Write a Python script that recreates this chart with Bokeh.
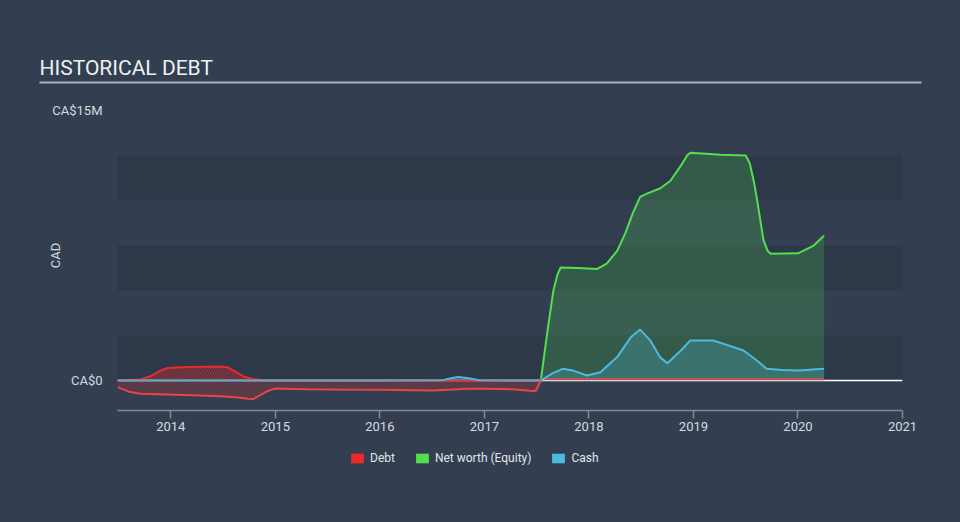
import numpy as np
from bokeh.plotting import figure
from bokeh.layouts import column
from bokeh.models import (FixedTicker, Span, Legend, LegendItem, BoxAnnotation,
                          Range1d, Label)
from bokeh.embed import file_html
from bokeh.resources import INLINE

# ---------------- data (CA$ millions, decimal years) ----------------
debt_x = [2013.49, 2013.7, 2013.8, 2013.9, 2013.97, 2014.1, 2014.3, 2014.48, 2014.55,
          2014.62, 2014.7, 2014.78, 2014.9, 2015.0, 2016.0, 2017.0, 2017.5, 2017.56,
          2018.0, 2019.0, 2020.0, 2020.25]
debt_y = [0.0, 0.05, 0.22, 0.55, 0.70, 0.74, 0.76, 0.78, 0.72,
          0.48, 0.22, 0.08, 0.02, 0.0, 0.0, 0.0, 0.0, 0.08,
          0.08, 0.08, 0.08, 0.08]

networth_x = [2013.49, 2013.6, 2013.71, 2013.97, 2014.2, 2014.48, 2014.65, 2014.74, 2014.79,
              2014.86, 2014.93, 2014.99, 2015.3, 2015.56, 2016.0, 2016.51, 2016.7, 2016.84,
              2017.0, 2017.3, 2017.49, 2017.54, 2017.6, 2017.66, 2017.7, 2017.73, 2017.9,
              2018.08, 2018.17, 2018.27, 2018.35, 2018.42, 2018.49, 2018.56, 2018.68, 2018.78,
              2018.88, 2018.94, 2018.97, 2019.26, 2019.5, 2019.54, 2019.58, 2019.61, 2019.67,
              2019.71, 2019.74, 2020.0, 2020.15, 2020.25]
networth_y = [-0.37, -0.62, -0.74, -0.78, -0.82, -0.87, -0.95, -1.02, -1.03,
              -0.8, -0.58, -0.45, -0.48, -0.5, -0.52, -0.55, -0.5, -0.46,
              -0.46, -0.5, -0.6, 0.0, 2.6, 5.0, 5.9, 6.28, 6.25,
              6.2, 6.5, 7.2, 8.2, 9.3, 10.2, 10.4, 10.67, 11.1,
              11.94, 12.5, 12.65, 12.55, 12.5, 12.05, 11.0, 10.0, 7.8,
              7.2, 7.05, 7.07, 7.5, 8.05]

cash_x = [2013.49, 2014.0, 2015.0, 2016.0, 2016.6, 2016.68, 2016.75, 2016.85, 2016.95,
          2017.2, 2017.54, 2017.65, 2017.75, 2017.85, 2017.98, 2018.11, 2018.27, 2018.4,
          2018.49, 2018.59, 2018.68, 2018.75, 2018.88, 2018.97, 2019.19, 2019.48, 2019.61,
          2019.7, 2019.85, 2020.0, 2020.25]
cash_y = [0.0, 0.0, 0.0, 0.0, 0.02, 0.12, 0.2, 0.12, 0.02,
          0.0, 0.0, 0.4, 0.65, 0.55, 0.28, 0.46, 1.3, 2.4,
          2.83, 2.2, 1.3, 0.96, 1.67, 2.22, 2.22, 1.67, 1.1,
          0.65, 0.58, 0.56, 0.65]

x_ticks = [2014, 2015, 2016, 2017, 2018, 2019, 2020, 2021]
y_ticks = [0, 15]
y_tick_labels = {0: "CA$0", 15: "CA$15M"}
band_ticks = [0, 2.5, 5, 7.5, 10, 12.5]
series_names = ["Debt", "Net worth (Equity)", "Cash"]
title_text = "HISTORICAL DEBT"

# ---------------- styling ----------------
BG = "#333f50"
BAND = "#2d3949"
RED = "#ec2a2c"
RED_LINE = "#e84549"
GREEN = "#52e04c"
BLUE = "#4cbadf"
TXT = "#d6dae0"
AXIS = "#7f8a98"
STYLES = {"background-color": BG}


def bare_fig(h):
    f = figure(width=960, height=h, output_backend="svg", toolbar_location=None,
               x_axis_location=None, y_axis_location=None, min_border=0,
               x_range=Range1d(0, 960), y_range=Range1d(h, 0), styles=STYLES)
    f.frame_align = False
    f.background_fill_color = BG
    f.border_fill_color = BG
    f.outline_line_color = None
    f.grid.visible = False
    return f


# ---------------- title strip ----------------
top = bare_fig(95)
top.add_layout(Label(x=39, y=67, text=title_text, text_baseline="alphabetic",
                     text_font="Roboto", text_font_size="21px", text_color="#eef0f3"))
top.add_layout(BoxAnnotation(left=39, right=921, top=81, bottom=83,
                             fill_color="#aeb4bc", fill_alpha=1.0, line_color=None))

# ---------------- main chart ----------------
p = figure(width=960, height=345, output_backend="svg", toolbar_location=None,
           x_range=Range1d(2013.49, 2021.0), y_range=Range1d(-1.667, 15.56),
           min_border_left=117, min_border_right=58, min_border_top=5,
           min_border_bottom=30, styles=STYLES)
p.frame_align = False
p.background_fill_color = BG
p.border_fill_color = BG
p.outline_line_color = None

p.xgrid.visible = False
p.ygrid.ticker = FixedTicker(ticks=band_ticks)
p.ygrid.grid_line_color = None
p.ygrid.band_fill_color = BAND
p.ygrid.band_fill_alpha = 1.0

xa = p.xaxis[0]
xa.ticker = FixedTicker(ticks=x_ticks)
xa.axis_line_color = AXIS
xa.axis_line_width = 1.5
xa.major_tick_line_color = AXIS
xa.major_tick_line_width = 1.5
xa.major_tick_out = 8
xa.major_tick_in = 0
xa.minor_tick_line_color = None
xa.major_label_text_color = TXT
xa.major_label_text_font = "Roboto"
xa.major_label_text_font_size = "13px"
xa.major_label_standoff = 3

ya = p.yaxis[0]
ya.ticker = FixedTicker(ticks=y_ticks)
ya.major_label_overrides = y_tick_labels
ya.axis_line_color = None
ya.major_tick_line_color = None
ya.major_tick_out = 0
ya.major_tick_in = 0
ya.minor_tick_line_color = None
ya.major_label_text_color = TXT
ya.major_label_text_font = "Roboto"
ya.major_label_text_font_size = "13px"
ya.major_label_standoff = 15
ya.axis_label = "CAD"
ya.axis_label_text_color = TXT
ya.axis_label_text_font = "Roboto"
ya.axis_label_text_font_size = "13px"
ya.axis_label_text_font_style = "normal"
ya.axis_label_standoff = -14

zero = Span(location=0, dimension="width", line_color="#ffffff", line_width=1.5,
            level="underlay")
p.add_layout(zero)

nx = np.array(networth_x)
ny = np.array(networth_y)
split = int(np.argmax((nx > 2017.0) & (ny >= 0)))
neg_x, neg_y = nx[:split + 1], ny[:split + 1]
pos_x, pos_y = nx[split:], ny[split:]

# net worth (positive part)
p.varea(x=pos_x, y1=np.zeros_like(pos_y), y2=pos_y, fill_color=GREEN, fill_alpha=0.2)
p.line(pos_x, pos_y, line_color=GREEN, line_width=2)

# debt
p.varea(x=debt_x, y1=np.zeros(len(debt_y)), y2=debt_y, fill_color=RED, fill_alpha=0.15,
        hatch_pattern="/", hatch_color=RED, hatch_alpha=0.6, hatch_scale=5, hatch_weight=1)
p.line(debt_x, debt_y, line_color=RED, line_width=2)

# cash
p.varea(x=cash_x, y1=np.zeros(len(cash_y)), y2=cash_y, fill_color=BLUE, fill_alpha=0.25)
p.line(cash_x, cash_y, line_color=BLUE, line_width=2)

# net worth (negative part)
p.varea(x=neg_x, y1=np.zeros_like(neg_y), y2=neg_y, fill_color=RED, fill_alpha=0.22)
p.line(neg_x, neg_y, line_color=RED_LINE, line_width=2)

# ---------------- legend strip ----------------
leg = bare_fig(82)
leg.y_range = Range1d(0, 82)
r_debt = leg.varea(x=debt_x, y1=np.zeros(len(debt_y)), y2=debt_y, fill_color=RED,
                   visible=False)
r_nw = leg.varea(x=pos_x, y1=np.zeros_like(pos_y), y2=pos_y, fill_color=GREEN,
                 visible=False)
r_cash = leg.varea(x=cash_x, y1=np.zeros(len(cash_y)), y2=cash_y, fill_color=BLUE,
                   visible=False)
legend = Legend(items=[LegendItem(label=series_names[0], renderers=[r_debt]),
                       LegendItem(label=series_names[1], renderers=[r_nw]),
                       LegendItem(label=series_names[2], renderers=[r_cash])],
                orientation="horizontal", location=(349, 57))
legend.background_fill_alpha = 0
legend.border_line_color = None
legend.inactive_fill_alpha = 0
legend.label_text_color = "#e2e5ea"
legend.label_text_font = "Roboto"
legend.label_text_font_size = "12px"
legend.label_height = 14
legend.glyph_width = 16
legend.glyph_height = 12
legend.label_standoff = 5
legend.spacing = 19
legend.padding = 0
legend.margin = 0
leg.add_layout(legend, "center")

layout = column(top, p, leg, spacing=0, styles=STYLES)
open("out.html", "w").write(file_html(layout, INLINE))
